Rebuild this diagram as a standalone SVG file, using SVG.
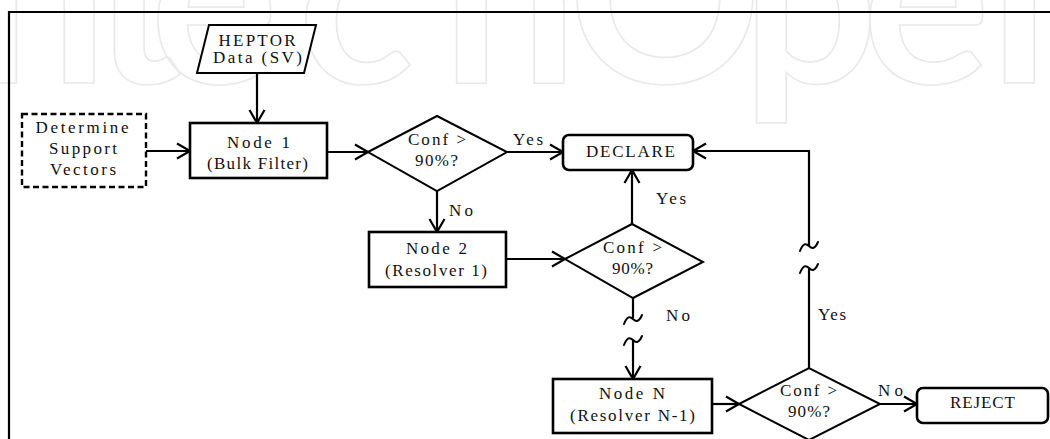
<svg xmlns="http://www.w3.org/2000/svg" width="1050" height="439" viewBox="0 0 1050 439">
  <style>
    .wm { font-family: Lato, "Open Sans", sans-serif; font-weight: 700; font-size: 240px; fill: none; stroke: #e9e9e9; stroke-width: 1.6; }
    .frame { fill: none; stroke: #000; stroke-width: 2.2; }
    .box { fill: #fff; stroke: #000; stroke-width: 2.6; }
    .dash { fill: #fff; stroke: #000; stroke-width: 2.4; stroke-dasharray: 6 3.5; }
    .dia { fill: #fff; stroke: #000; stroke-width: 2; }
    .conn { fill: none; stroke: #000; stroke-width: 2.2; }
    .brk { fill: none; stroke: #000; stroke-width: 2; stroke-linecap: round; }
    .t { font-family: "Liberation Serif", "Times New Roman", serif; font-size: 17px; fill: #111; text-anchor: middle; }
    .lbl { font-family: "Liberation Serif", "Times New Roman", serif; font-size: 17px; fill: #111; }
  </style>
  <defs>
    <marker id="arrow" markerUnits="userSpaceOnUse" viewBox="0 0 14 16" markerWidth="14" markerHeight="16" refX="13" refY="8" orient="auto" overflow="visible">
      <path d="M0,0.5 L13,8 L0,15.5" fill="none" stroke="#000" stroke-width="2.2"/>
    </marker>
  </defs>

  <rect width="1050" height="439" fill="#fff"/>

  <!-- publisher watermark -->
  <text class="wm" y="83" x="-110 -28 92 150 298 442 568 742 862 990">IntechOpen</text>

  <!-- page frame (open to right and bottom) -->
  <path class="frame" d="M9,440 V12 H1051"/>

  <!-- connectors -->
  <g id="connectors">
    <line class="conn" x1="257" y1="73" x2="257" y2="123" marker-end="url(#arrow)"/>
    <line class="conn" x1="146" y1="151" x2="190" y2="151" marker-end="url(#arrow)"/>
    <line class="conn" x1="327" y1="152" x2="368" y2="152" marker-end="url(#arrow)"/>
    <line class="conn" x1="507" y1="152" x2="563" y2="152" marker-end="url(#arrow)"/>
    <line class="conn" x1="437" y1="191" x2="437" y2="232" marker-end="url(#arrow)"/>
    <line class="conn" x1="506" y1="259" x2="565" y2="259" marker-end="url(#arrow)"/>
    <line class="conn" x1="632" y1="224" x2="632" y2="170" marker-end="url(#arrow)"/>
    <!-- No branch of second test, with break marks -->
    <path class="conn" d="M633,298 V318"/>
    <path class="brk" d="M624,324 C627,316 630,316 633,319 C636,322 639,322 642,315"/>
    <path class="brk" d="M624,345 C627,337 630,337 633,340 C636,343 639,343 642,336"/>
    <line class="conn" x1="633" y1="340" x2="633" y2="379" marker-end="url(#arrow)"/>
    <line class="conn" x1="712" y1="404" x2="739" y2="404" marker-end="url(#arrow)"/>
    <line class="conn" x1="880" y1="404" x2="917" y2="404" marker-end="url(#arrow)"/>
    <!-- Yes branch of last test, with break marks -->
    <path class="conn" d="M809,368 V269"/>
    <path class="brk" d="M800,251 C803,243 806,243 809,246 C812,249 815,249 818,242"/>
    <path class="brk" d="M800,273 C803,265 806,265 809,268 C812,271 815,271 818,264"/>
    <path class="conn" d="M809,246 V151 H693" marker-end="url(#arrow)"/>
    <!-- branch labels -->
    <text class="lbl" x="513" y="145" textLength="30" lengthAdjust="spacing">Yes</text>
    <text class="lbl" x="449" y="216" textLength="24" lengthAdjust="spacing">No</text>
    <text class="lbl" x="656" y="204" textLength="30" lengthAdjust="spacing">Yes</text>
    <text class="lbl" x="666" y="321" textLength="24" lengthAdjust="spacing">No</text>
    <text class="lbl" x="818" y="320" textLength="28" lengthAdjust="spacing">Yes</text>
    <text class="lbl" x="878" y="396" textLength="25" lengthAdjust="spacing">No</text>
  </g>

  <g id="heptor-data">
    <polygon class="dia" points="209,25 316,25 304,73 197,73"/>
    <text class="t" x="257" y="46" textLength="77" lengthAdjust="spacing">HEPTOR</text>
    <text class="t" x="257.5" y="63" textLength="89" lengthAdjust="spacing">Data (SV)</text>
  </g>

  <g id="support-vectors">
    <rect class="dash" x="22" y="114" width="124" height="73"/>
    <text class="t" x="82" y="133" textLength="93" lengthAdjust="spacing">Determine</text>
    <text class="t" x="83" y="154" textLength="68" lengthAdjust="spacing">Support</text>
    <text class="t" x="83" y="175" textLength="66" lengthAdjust="spacing">Vectors</text>
  </g>

  <g id="node1">
    <rect class="box" x="190" y="123" width="137" height="55"/>
    <text class="t" x="258.5" y="148" textLength="63" lengthAdjust="spacing">Node 1</text>
    <text class="t" x="257.5" y="169" textLength="101" lengthAdjust="spacing">(Bulk Filter)</text>
  </g>

  <g id="test1">
    <polygon class="dia" points="368,152 437,116 507,152 437,191"/>
    <text class="t" x="437" y="145" textLength="58" lengthAdjust="spacing">Conf &gt;</text>
    <text class="t" x="436.5" y="166" textLength="43" lengthAdjust="spacing">90%?</text>
  </g>

  <g id="declare">
    <rect class="box" x="563" y="135" width="130" height="35" rx="6"/>
    <text class="t" x="630.5" y="157" textLength="89" lengthAdjust="spacing">DECLARE</text>
  </g>

  <g id="node2">
    <rect class="box" x="369" y="232" width="137" height="55"/>
    <text class="t" x="436.5" y="254" textLength="61" lengthAdjust="spacing">Node 2</text>
    <text class="t" x="436" y="276" textLength="102" lengthAdjust="spacing">(Resolver 1)</text>
  </g>

  <g id="test2">
    <polygon class="dia" points="565,259 632,224 703,262 633,298"/>
    <text class="t" x="632.5" y="253" textLength="59" lengthAdjust="spacing">Conf &gt;</text>
    <text class="t" x="632.5" y="274" textLength="41" lengthAdjust="spacing">90%?</text>
  </g>

  <g id="nodeN">
    <rect class="box" x="553" y="379" width="159" height="54"/>
    <text class="t" x="632" y="399" textLength="66" lengthAdjust="spacing">Node N</text>
    <text class="t" x="632.5" y="421" textLength="125" lengthAdjust="spacing">(Resolver N-1)</text>
  </g>

  <g id="test3">
    <polygon class="dia" points="739,404 809,368 880,404 809,440"/>
    <text class="t" x="808.5" y="396" textLength="57" lengthAdjust="spacing">Conf &gt;</text>
    <text class="t" x="809" y="417" textLength="42" lengthAdjust="spacing">90%?</text>
  </g>

  <g id="reject">
    <rect class="box" x="917" y="388" width="131" height="35" rx="6"/>
    <text class="t" x="982.5" y="408" textLength="65" lengthAdjust="spacing">REJECT</text>
  </g>
</svg>
